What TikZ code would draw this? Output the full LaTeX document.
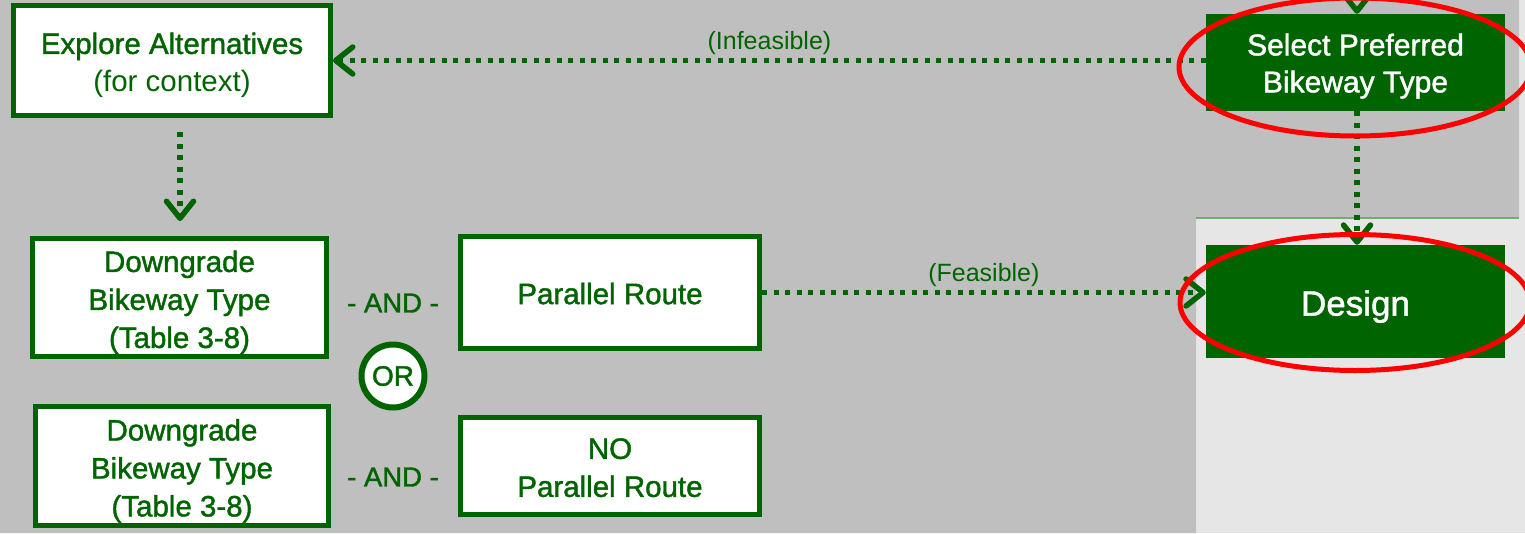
\documentclass[tikz,border=0pt]{standalone}
\usepackage{fontspec}
\setmainfont{Liberation Sans}
\newfontfamily\medium{Liberation Sans}[FakeBold=1.4]
\usetikzlibrary{arrows.meta}
\definecolor{dkgreen}{RGB}{0,100,0}
\definecolor{panelgrey}{RGB}{191,191,191}
\definecolor{lightpanel}{RGB}{230,230,230}
\definecolor{edgegreen}{RGB}{112,173,112}
\definecolor{ringred}{RGB}{255,0,0}
% invisible rule that makes the first line taller, lowering the text block
\newcommand\shimrule[1]{\rule{0pt}{#1}}

\begin{document}
\begin{tikzpicture}[x=1pt,y=-1pt,
  outline/.style={draw=dkgreen, line width=5pt, fill=white, text=dkgreen,
    align=center, inner sep=0pt,
    font=\medium\fontsize{29.5}{38}\selectfont},
  solidbox/.style={fill=dkgreen, text=white, align=center, inner sep=0pt,
    minimum width=299pt},
  flow/.style={draw=dkgreen, line width=5.5pt, dash pattern=on 5pt off 6.5pt,
    -{Straight Barb[length=17pt,width=27pt,line cap=round,line join=round]}},
  andlabel/.style={text=dkgreen, inner sep=0pt, font=\medium\fontsize{27.5}{32}\selectfont},
  flowlabel/.style={text=dkgreen, inner sep=0pt, font=\fontsize{25}{28}\selectfont},
  ring/.style={draw=ringred, line width=5pt}
]
\useasboundingbox (0,0) rectangle (1525,533);
\clip (0,0) rectangle (1525,533);

% background panels
\fill[lightpanel] (0,0) rectangle (1525,533);
\fill[panelgrey] (0,0) -- (1519,0) -- (1519,218) -- (1196,218) -- (1196,533) -- (0,533) -- cycle;
\draw[edgegreen, line width=1.5pt] (1196,218) -- (1519,218);

% boxes
\node[outline, minimum width=317pt, minimum height=110pt] (explore) at (172,60.5)
  {\shimrule{31pt}Explore Alternatives\\{\normalfont\fontsize{29.5}{38}\selectfont(for context)}};
\node[outline, minimum width=294pt, minimum height=118pt] (dgA) at (179.5,297.5)
  {\shimrule{31pt}Downgrade\\Bikeway Type\\(Table 3-8)};
\node[outline, minimum width=293pt, minimum height=119pt] (dgB) at (182,466)
  {\shimrule{31pt}Downgrade\\Bikeway Type\\(Table 3-8)};
\node[outline, minimum width=299pt, minimum height=112pt] (par) at (610,292.5)
  {\shimrule{23.5pt}Parallel Route};
\node[outline, minimum width=299pt, minimum height=97pt] (nopar) at (610,466)
  {\shimrule{24pt}NO\\Parallel Route};
\node[solidbox, minimum height=97pt,
  font=\medium\fontsize{30}{37}\selectfont] (select) at (1355.5,62.5)
  {\shimrule{29pt}Select Preferred\\Bikeway Type};
\node[solidbox, minimum height=113pt,
  font=\medium\fontsize{35}{40}\selectfont] (design) at (1355.5,301.5)
  {\shimrule{35.5pt}Design};

% connectives
\node[andlabel] (andA) at (393,303) {- AND -};
\node[andlabel] (andB) at (393,477) {- AND -};
\node[circle, draw=dkgreen, line width=6pt, fill=white, text=dkgreen, inner sep=0pt,
  minimum size=63pt, font=\medium\fontsize{28}{32}\selectfont] (orsign) at (393,376) {OR};

% connectors
\coordinate (topin) at (1357,-40);
\draw[flow] (topin) -- (select.north -| topin);
\draw[flow] (select.south -| topin) -- (design.north -| topin);
\draw[flow] (explore.east -| select.west) -- (explore.east)
  node[flowlabel, midway, above=3pt] {(Infeasible)};
\draw[flow, shorten <=14pt, shorten >=15pt] (explore.south -| 180,0) -- (dgA.north -| 180,0);
\draw[flow] (par.east) -- (par.east -| design.west)
  node[flowlabel, midway, above=3pt] {(Feasible)};

% highlight rings
\draw[ring] (1355,67) ellipse [x radius=176pt, y radius=69pt];
\draw[ring] (1355,302.5) ellipse [x radius=175pt, y radius=68pt];
\end{tikzpicture}
\end{document}
